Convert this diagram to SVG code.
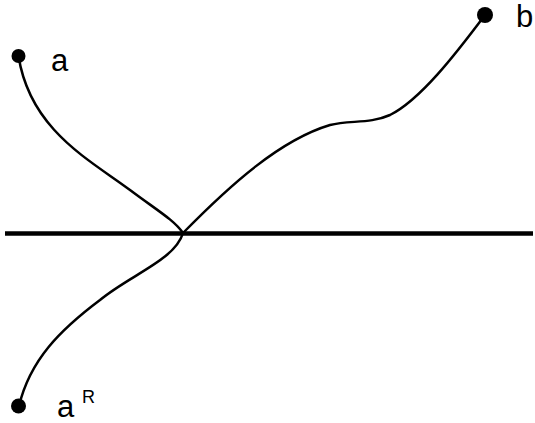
<svg xmlns="http://www.w3.org/2000/svg" width="535" height="423" viewBox="0 0 535 423">
<style>
.c{fill:none;stroke:#000;stroke-width:2.5;stroke-linecap:round}
.d{fill:#000}
.t{font-family:"Liberation Sans",Arial,sans-serif;font-size:31px;fill:#000}
.s{font-family:"Liberation Sans",Arial,sans-serif;font-size:18px;fill:#000}
</style>
<rect width="535" height="423" fill="#fff"/>
<g id="connectors">
<line x1="5" y1="233.5" x2="533" y2="233.5" stroke="#000" stroke-width="4.5"/>
<path class="c" d="M18.5,56 C30,130 90,160 130,190 C158,211 174,220 183,233"/>
<path class="c" d="M183,233 C230,185 280,140 330,125 C350,120 370,124 390,115 C420,100 455,55 485,15"/>
<path class="c" d="M183,233 C175,260 130,275 100,300 C60,330 30,360 19,406"/>
</g>
<g id="a"><circle class="d" cx="18.5" cy="56" r="7"/><text class="t" x="51" y="71">a</text></g>
<g id="b"><circle class="d" cx="485" cy="15" r="8"/><text class="t" x="516" y="27">b</text></g>
<g id="aR"><circle class="d" cx="18.5" cy="406" r="7.5"/><text class="t" x="57" y="417">a</text><text class="s" x="82" y="403">R</text></g>
</svg>
